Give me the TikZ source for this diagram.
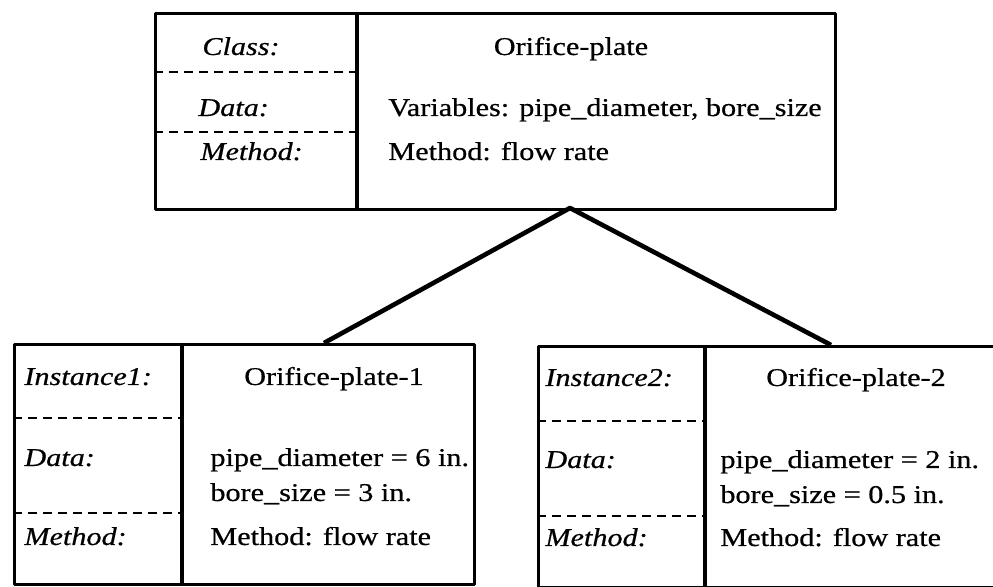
\documentclass[tikz,border=0pt]{standalone}
\usepackage{fontspec}
\setmainfont{Liberation Serif}[FakeStretch=1.18, FakeBold=0.6]
\usepackage{tikz}
\usetikzlibrary{positioning}
\newcommand{\figfont}{\fontsize{12.8}{14}\selectfont}

\begin{document}
\begin{tikzpicture}[x=0.5pt, y=-0.5pt, line join=round, font=\figfont,
    frame/.style={draw, line width=1.6pt, inner sep=0pt, anchor=north west},
    rule/.style={line width=1.6pt},
    sep/.style={line width=0.75pt, dash pattern=on 4.5pt off 3pt},
    link/.style={line width=2.3pt},
    tag/.style={font=\figfont\itshape, anchor=base west, inner sep=0pt},
    txt/.style={anchor=base west, inner sep=0pt},
    title/.style={anchor=base, inner sep=0pt}]

    % Page size taken from the scan (pixel units, y going down)
    \useasboundingbox (0,0) rectangle (993,587);
    \clip (0,0) rectangle (993,587);

    % Outer frames of the class and the two instances
    \node[frame, minimum width=340pt, minimum height=98pt]      (cls)   at (154,12)  {};
    \node[frame, minimum width=230pt, minimum height=120pt]     (inst1) at (13,343)  {};
    \node[frame, minimum width=236.5pt, minimum height=120.5pt] (inst2) at (537,345) {};

    % Column dividers
    \draw[rule] (357,12) -- (357,208);
    \draw[rule] (182,343) -- (182,583);
    \draw[rule] (705,345) -- (705,586);

    % Dashed row separators in the label columns
    \draw[sep] (154,72) -- (357,72);
    \draw[sep] (154,132) -- (357,132);
    \draw[sep] (13,418) -- (182,418);
    \draw[sep] (13,513) -- (182,513);
    \draw[sep] (537,421) -- (705,421);
    \draw[sep] (537,516) -- (705,516);

    % Class box
    \node[tag]   (clsname)  at (202,55)  {Class:};
    \node[tag]   (clsdata)  at (198,116) {Data:};
    \node[tag]   (clsmeth)  at (200,160) {Method:};
    \node[title] (clstitle) at (571,55)  {Orifice-plate};
    \node[txt]   (clsvars)  at (388,116) {Variables: pipe\_diameter, bore\_size};
    \node[txt]   (clsflow)  at (388,160) {Method: flow rate};

    % Instance 1
    \node[tag]   (onename)  at (24,385)  {Instance1:};
    \node[tag]   (onedata)  at (24,466)  {Data:};
    \node[tag]   (onemeth)  at (24,545)  {Method:};
    \node[title] (onetitle) at (334,385) {Orifice-plate-1};
    \node[txt]   (onepipe)  at (210,466) {pipe\_diameter = 6 in.};
    \node[txt]   (onebore)  at (210,501) {bore\_size = 3 in.};
    \node[txt]   (oneflow)  at (210,545) {Method: flow rate};

    % Instance 2
    \node[tag]   (twoname)  at (545,386) {Instance2:};
    \node[tag]   (twodata)  at (545,468) {Data:};
    \node[tag]   (twometh)  at (545,546) {Method:};
    \node[title] (twotitle) at (856,386) {Orifice-plate-2};
    \node[txt]   (twopipe)  at (720,468) {pipe\_diameter = 2 in.};
    \node[txt]   (twobore)  at (720,503) {bore\_size = 0.5 in.};
    \node[txt]   (twoflow)  at (720,546) {Method: flow rate};

    % Links from the class down to its instances
    \coordinate (root)  at (570,208);
    \coordinate (leaf1) at (324,343);
    \coordinate (leaf2) at (831,345);
    \draw[link] (leaf1) -- (root) -- (leaf2);

\end{tikzpicture}
\end{document}
